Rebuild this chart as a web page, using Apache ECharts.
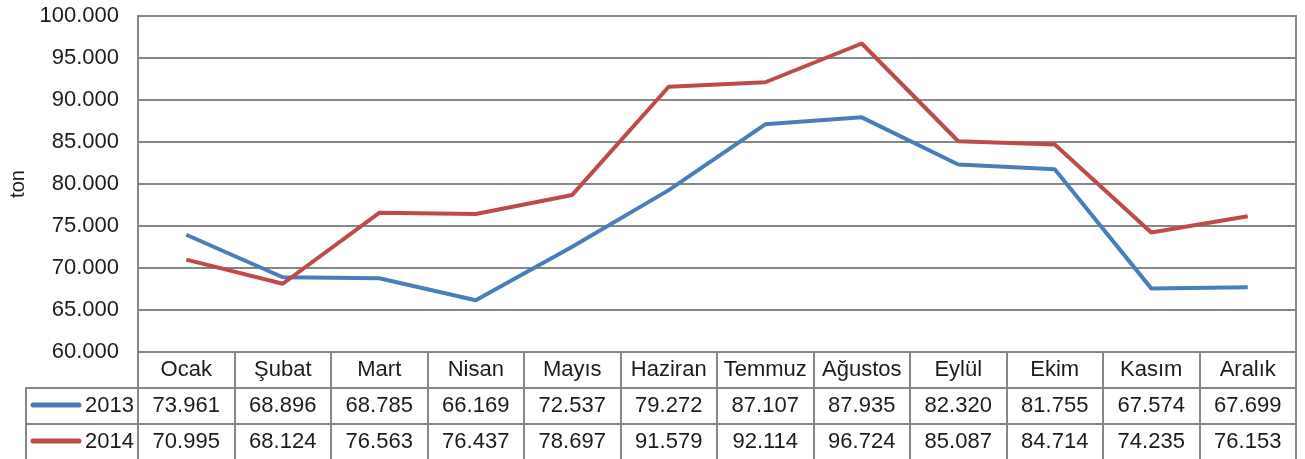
<!DOCTYPE html>
<html>
<head>
<meta charset="utf-8">
<script src="https://cdn.jsdelivr.net/npm/echarts@6/dist/echarts.min.js"></script>
<style>
  html, body { margin: 0; padding: 0; background: #fff; }
  #chart { width: 1305px; height: 459px; }
</style>
</head>
<body>
<div id="chart"></div>
<script>
var months = ['Ocak', 'Şubat', 'Mart', 'Nisan', 'Mayıs', 'Haziran', 'Temmuz', 'Ağustos', 'Eylül', 'Ekim', 'Kasım', 'Aralık']
var seriesNames = ['2013', '2014']
var values2013 = [73961, 68896, 68785, 66169, 72537, 79272, 87107, 87935, 82320, 81755, 67574, 67699]
var values2014 = [70995, 68124, 76563, 76437, 78697, 91579, 92114, 96724, 85087, 84714, 74235, 76153]
var colors = ['#4a7ebb', '#be4b48']

var font = 'Liberation Sans, Arial, Helvetica, sans-serif'
var textColor = '#1e1b1c'
var lineGray = '#868888'
var fs = 22

// 73961 -> "73.961"
function fmt (v) {
  var k = Math.floor(v / 1000)
  var r = String(v % 1000)
  while (r.length < 3) r = '0' + r
  return k + '.' + r
}

var chart = echarts.init(document.getElementById('chart'))

function tableAxis (vals, offset) {
  return {
    type: 'category',
    position: 'bottom',
    offset: offset,
    data: months,
    axisLine: { show: false },
    axisTick: { show: false },
    axisLabel: {
      interval: 0,
      margin: 7,
      fontSize: fs,
      fontFamily: font,
      color: textColor,
      formatter: function (v, i) { return fmt(vals[i]) }
    }
  }
}

var option = {
  animation: false,
  grid: {
    left: 137,
    right: 9,
    top: 16,
    bottom: 107,
    show: true,
    borderColor: lineGray,
    borderWidth: 2
  },
  xAxis: [
    {
      type: 'category',
      position: 'bottom',
      data: months,
      boundaryGap: true,
      axisLine: { lineStyle: { color: lineGray, width: 2 } },
      axisTick: {
        show: true,
        interval: 0,
        length: 110,
        lineStyle: { color: lineGray, width: 2 }
      },
      axisLabel: {
        interval: 0,
        margin: 7,
        fontSize: fs,
        fontFamily: font,
        color: textColor
      }
    },
    tableAxis(values2013, 36),
    tableAxis(values2014, 72)
  ],
  yAxis: {
    type: 'value',
    min: 60000,
    max: 100000,
    interval: 5000,
    name: 'ton',
    nameLocation: 'middle',
    nameGap: 110,
    nameRotate: 90,
    nameTextStyle: { fontSize: 20, fontFamily: font, color: textColor },
    axisLine: { show: true, lineStyle: { color: lineGray, width: 2 } },
    axisTick: { show: false },
    axisLabel: {
      margin: 19,
      fontSize: fs,
      fontFamily: font,
      color: textColor,
      formatter: function (v) { return fmt(v) }
    },
    splitLine: { lineStyle: { color: lineGray, width: 2 } }
  },
  series: [
    {
      name: seriesNames[0],
      type: 'line',
      data: values2013,
      symbol: 'none',
      lineStyle: { color: colors[0], width: 4 },
      itemStyle: { color: colors[0] }
    },
    {
      name: seriesNames[1],
      type: 'line',
      data: values2014,
      symbol: 'none',
      lineStyle: { color: colors[1], width: 4 },
      itemStyle: { color: colors[1] }
    }
  ],
  graphic: [
    // table rows
    { type: 'line', shape: { x1: 26, y1: 388, x2: 1296, y2: 388 }, style: { stroke: lineGray, lineWidth: 2 } },
    { type: 'line', shape: { x1: 26, y1: 424, x2: 1296, y2: 424 }, style: { stroke: lineGray, lineWidth: 2 } },
    { type: 'line', shape: { x1: 26, y1: 387, x2: 26, y2: 459 }, style: { stroke: lineGray, lineWidth: 2 } },
    // legend keys in the table
    { type: 'line', shape: { x1: 33, y1: 405, x2: 79, y2: 405 }, style: { stroke: colors[0], lineWidth: 5, lineCap: 'round' } },
    { type: 'text', style: { x: 134, y: 406, text: seriesNames[0], align: 'right', verticalAlign: 'middle', font: fs + 'px ' + font, fill: textColor } },
    { type: 'line', shape: { x1: 33, y1: 441, x2: 79, y2: 441 }, style: { stroke: colors[1], lineWidth: 5, lineCap: 'round' } },
    { type: 'text', style: { x: 134, y: 442, text: seriesNames[1], align: 'right', verticalAlign: 'middle', font: fs + 'px ' + font, fill: textColor } }
  ]
}

chart.setOption(option)
window.onresize = function () {
  chart.resize()
}
</script>
</body>
</html>
